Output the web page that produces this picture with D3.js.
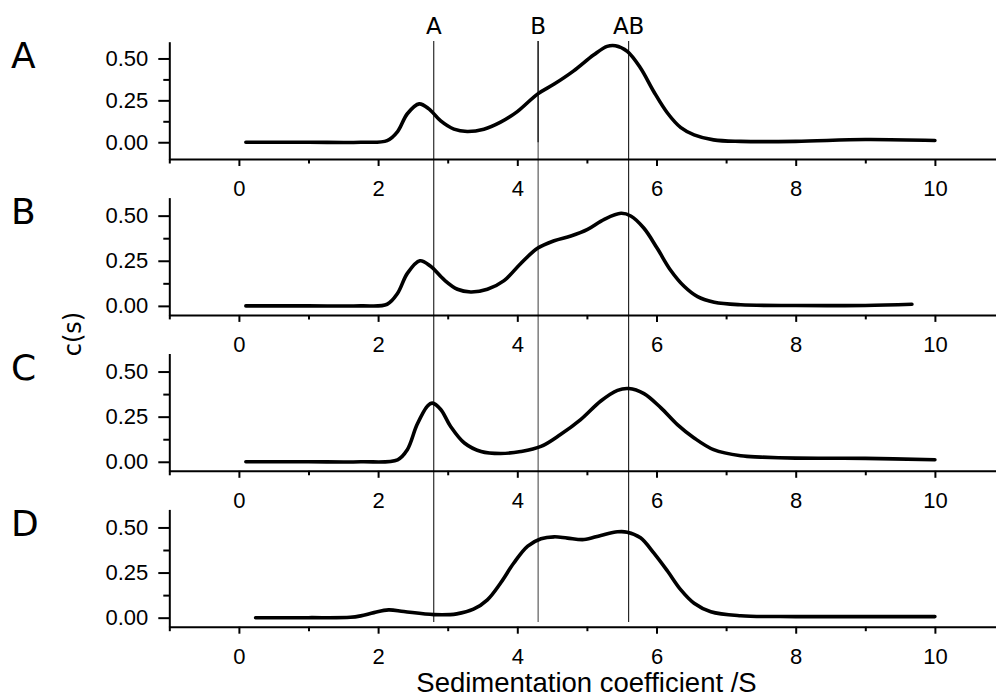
<!DOCTYPE html>
<html>
<head>
<meta charset="utf-8">
<script src="https://cdn.jsdelivr.net/npm/d3@7"></script>
<style>
  body { margin: 0; background: #fff; }
  .tick text { font-family: "Liberation Sans", Arial, sans-serif; font-size: 22px; fill: #000; }
</style>
</head>
<body>
<svg id="chart" width="996" height="698"></svg>
<script>
/* Data: c(s) distributions for the four samples */
var panelNames = ["A", "B", "C", "D"];

var sA = [0.1, 1.0, 1.75, 2.13, 2.28, 2.42, 2.59, 2.73, 2.90, 3.09, 3.28, 3.52, 3.76, 4.0, 4.29, 4.53, 4.81, 5.10, 5.29, 5.41, 5.58, 5.77, 5.96, 6.16, 6.35, 6.54, 6.82, 7.21, 8.0, 9.0, 10.0];
var cA = [0, 0, 0, 0.01, 0.064, 0.17, 0.229, 0.199, 0.127, 0.078, 0.064, 0.078, 0.12, 0.183, 0.287, 0.347, 0.426, 0.522, 0.572, 0.576, 0.542, 0.443, 0.303, 0.173, 0.087, 0.044, 0.014, 0.005, 0.005, 0.016, 0.01];

var sB = [0.1, 1.0, 1.75, 2.13, 2.28, 2.42, 2.60, 2.75, 2.95, 3.14, 3.33, 3.57, 3.81, 4.05, 4.29, 4.53, 4.77, 5.01, 5.25, 5.49, 5.63, 5.82, 6.01, 6.20, 6.40, 6.59, 6.83, 7.21, 8.0, 9.0, 9.67];
var cB = [0, 0, 0, 0.009, 0.07, 0.18, 0.25, 0.221, 0.144, 0.092, 0.077, 0.092, 0.14, 0.235, 0.319, 0.361, 0.387, 0.424, 0.48, 0.513, 0.498, 0.43, 0.319, 0.199, 0.107, 0.051, 0.02, 0.006, 0.002, 0.002, 0.009];

var sC = [0.1, 1.0, 1.75, 2.28, 2.42, 2.56, 2.71, 2.78, 2.90, 3.04, 3.24, 3.48, 3.76, 4.05, 4.34, 4.62, 4.91, 5.20, 5.44, 5.60, 5.82, 6.06, 6.30, 6.54, 6.82, 7.21, 7.5, 8.0, 9.0, 10.0];
var cC = [0, 0, 0, 0.011, 0.067, 0.206, 0.309, 0.325, 0.29, 0.197, 0.104, 0.057, 0.046, 0.057, 0.085, 0.151, 0.234, 0.337, 0.396, 0.406, 0.378, 0.30, 0.206, 0.132, 0.067, 0.033, 0.026, 0.02, 0.019, 0.011];

var sD = [0.24, 1.0, 1.6, 1.75, 1.94, 2.15, 2.37, 2.80, 3.13, 3.37, 3.57, 3.76, 3.95, 4.15, 4.34, 4.53, 4.72, 4.96, 5.20, 5.44, 5.58, 5.77, 5.96, 6.16, 6.35, 6.54, 6.78, 7.21, 8.0, 9.0, 10.0];
var cD = [0, 0, 0.002, 0.01, 0.028, 0.043, 0.034, 0.017, 0.021, 0.047, 0.099, 0.192, 0.303, 0.396, 0.437, 0.448, 0.441, 0.433, 0.456, 0.476, 0.474, 0.443, 0.359, 0.257, 0.154, 0.08, 0.033, 0.011, 0.006, 0.006, 0.006];

var sSeries = [sA, sB, sC, sD];
var cSeries = [cA, cB, cC, cD];
var yMins = [-0.1, -0.05, -0.05, -0.05];

// reference positions (vertical lines)
var markerNames = ["A", "B", "AB"];
var markerPositions = [2.8, 4.3, 5.6];

var xMajorTicks = [0, 2, 4, 6, 8, 10];
var xMinorTicks = [-1, 1, 3, 5, 7, 9, 11];
var yMajorTicks = [0, 0.25, 0.5];
var yMinorTicks = [0.125, 0.375];

/* Layout */
var svg = d3.select("#chart");
var left = 169.3;
var panelTop = 41.7, panelStep = 155.9, panelHeight = 117.3;

var x = d3.scaleLinear().domain([-1, 11]).range([left, left + 12 * 69.6]);

var yScales = panelNames.map(function (n, i) {
  var top = panelTop + i * panelStep;
  return d3.scaleLinear().domain([yMins[i], 0.6]).range([top + panelHeight, top]);
});

// vertical marker lines, drawn behind the curves
var lineTop = 41, lineBottom = 622;
var markers = svg.append("g");
markerNames.forEach(function (name, i) {
  var px = x(markerPositions[i]);
  markers.append("line")
    .attr("x1", px).attr("x2", px)
    .attr("y1", lineTop).attr("y2", lineBottom)
    .attr("stroke", name == "B" ? "#858585" : "#000")
    .attr("stroke-width", name == "B" ? 1.6 : 1);
  if (name == "B") {
    // darker part at the top (as in the original figure)
    markers.append("line")
      .attr("x1", px).attr("x2", px)
      .attr("y1", lineTop).attr("y2", yScales[0](0))
      .attr("stroke", "#333").attr("stroke-width", 1.6);
  }
  svg.append("text")
    .attr("x", px).attr("y", 33.5)
    .attr("text-anchor", "middle")
    .style("font-family", "'DejaVu Sans', sans-serif")
    .style("font-size", "23px")
    .text(name);
});

panelNames.forEach(function (name, i) {
  var y = yScales[i];
  var bottom = y.range()[0];
  var g = svg.append("g");

  // x axis: major ticks with labels, minor ticks without
  g.append("g")
    .attr("transform", "translate(0," + bottom + ")")
    .call(d3.axisBottom(x).tickValues(xMajorTicks).tickSize(7).tickSizeOuter(0).tickPadding(14.5).tickFormat(d3.format("d")))
    .call(function (a) { a.select(".domain").attr("stroke-width", 2); a.selectAll(".tick line").attr("stroke-width", 2); });
  g.append("g")
    .attr("transform", "translate(0," + bottom + ")")
    .call(d3.axisBottom(x).tickValues(xMinorTicks).tickSize(4.5).tickSizeOuter(0).tickFormat(""))
    .call(function (a) { a.select(".domain").remove(); a.selectAll(".tick line").attr("stroke-width", 2); });

  // y axis
  g.append("g")
    .attr("transform", "translate(" + left + ",0)")
    .call(d3.axisLeft(y).tickValues(yMajorTicks).tickSize(11).tickSizeOuter(0).tickPadding(10).tickFormat(d3.format(".2f")))
    .call(function (a) { a.select(".domain").attr("stroke-width", 2); a.selectAll(".tick line").attr("stroke-width", 2); });
  g.append("g")
    .attr("transform", "translate(" + left + ",0)")
    .call(d3.axisLeft(y).tickValues(yMinorTicks).tickSize(6).tickSizeOuter(0).tickFormat(""))
    .call(function (a) { a.select(".domain").remove(); a.selectAll(".tick line").attr("stroke-width", 2); });

  // panel letter
  svg.append("text")
    .attr("x", 11).attr("y", y.range()[1] + 26.5)
    .style("font-family", "'DejaVu Sans', sans-serif")
    .style("font-size", "36px")
    .text(name);

  // c(s) curve
  var pts = d3.zip(sSeries[i], cSeries[i]);
  g.append("path")
    .datum(pts)
    .attr("fill", "none")
    .attr("stroke", "#000")
    .attr("stroke-width", 3.6)
    .attr("stroke-linecap", "round")
    .attr("stroke-linejoin", "round")
    .attr("d", d3.line()
      .x(function (d) { return x(d[0]); })
      .y(function (d) { return y(d[1]); })
      .curve(d3.curveCatmullRom.alpha(0.5)));
});

// axis titles
svg.append("text")
  .attr("x", 586.5).attr("y", 692)
  .attr("text-anchor", "middle")
  .style("font-family", "'Liberation Sans', Arial, sans-serif")
  .style("font-size", "27.5px")
  .text("Sedimentation coefficient /S");

svg.append("text")
  .attr("transform", "translate(81,334) rotate(-90)")
  .attr("text-anchor", "middle")
  .style("font-family", "'DejaVu Sans', sans-serif")
  .style("font-size", "24px")
  .text("c(s)");
</script>
</body>
</html>
